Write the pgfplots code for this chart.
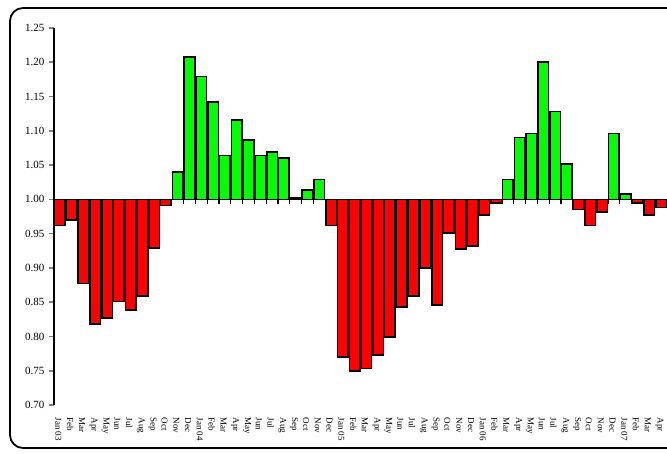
\documentclass[border=0pt]{standalone}
\usepackage{pgfplots}
\pgfplotsset{compat=1.18}
\usepackage{pgfplotstable}
\usepackage{fontspec}
\setmainfont{Liberation Serif}

\definecolor{upgreen}{RGB}{0,255,0}
\definecolor{downred}{RGB}{255,0,0}

% monthly ratio, Jan 03 .. Apr 07
\pgfplotstableread{
i v
0 0.962
1 0.970
2 0.877
3 0.818
4 0.827
5 0.851
6 0.839
7 0.859
8 0.929
9 0.991
10 1.040
11 1.208
12 1.179
13 1.142
14 1.064
15 1.116
16 1.087
17 1.064
18 1.069
19 1.060
20 1.002
21 1.014
22 1.029
23 0.962
24 0.770
25 0.750
26 0.753
27 0.773
28 0.799
29 0.843
30 0.859
31 0.900
32 0.846
33 0.951
34 0.928
35 0.932
36 0.977
37 0.995
38 1.029
39 1.090
40 1.096
41 1.200
42 1.128
43 1.052
44 0.985
45 0.962
46 0.982
47 1.096
48 1.008
49 0.995
50 0.977
51 0.988
}\ratio

\begin{document}
\begin{tikzpicture}[x=1pt,y=1pt]
\draw[line width=1.8pt, rounded corners=13pt] (10,5) rectangle (720,445);
\begin{axis}[
  at={(54pt,48pt)}, anchor=south west,
  scale only axis, width=613pt, height=377pt,
  xmin=-0.5, xmax=51.5, ymin=-0.30, ymax=0.25,
  axis x line*=bottom, axis y line*=left,
  x axis line style={draw=none},
  y axis line style={line width=1.6pt},
  /pgf/number format/assume math mode=true,
  ytick={-0.3,-0.25,-0.2,-0.15,-0.1,-0.05,0,0.05,0.1,0.15,0.2,0.25},
  yticklabel={\pgfmathparse{\tick+1}\pgfmathprintnumber[fixed,fixed zerofill,precision=2]{\pgfmathresult}},
  yticklabel style={font=\fontsize{11}{12}\selectfont, xshift=-1pt},
  ytick style={line width=1.6pt},
  tick align=outside, major tick length=5pt,
  xtick={0,...,51},
  major x tick style={draw=none},
  xticklabels={Jan 03,Feb,Mar,Apr,May,Jun,Jul,Aug,Sep,Oct,Nov,Dec,
    Jan 04,Feb,Mar,Apr,May,Jun,Jul,Aug,Sep,Oct,Nov,Dec,
    Jan 05,Feb,Mar,Apr,May,Jun,Jul,Aug,Sep,Oct,Nov,Dec,
    Jan 06,Feb,Mar,Apr,May,Jun,Jul,Aug,Sep,Oct,Nov,Dec,
    Jan 07,Feb,Mar,Apr},
  xticklabel style={rotate=-90, anchor=west, font=\fontsize{9}{10}\selectfont, xshift=4pt, yshift=-1.5pt},
  ybar, bar width=0.9, bar shift=0pt,
  every axis plot/.append style={line width=1.6pt, draw=black},
  clip=false,
]
\draw[line width=1.6pt] (axis cs:-0.5,0) -- (axis cs:51.5,0);
\pgfplotsinvokeforeach{0.5,1.5,...,50.5}{\draw[line width=1.2pt] (axis cs:#1,0) -- ([yshift=-5pt]axis cs:#1,0);}
\addplot[fill=upgreen, y filter/.expression={y<0 ? nan : y}]
  table[x=i, y expr=\thisrow{v}-1] {\ratio};
\addplot[fill=downred, y filter/.expression={y<0 ? y : nan}]
  table[x=i, y expr=\thisrow{v}-1] {\ratio};
\end{axis}
\pgfresetboundingbox
\useasboundingbox (0,0) rectangle (667,453);
\end{tikzpicture}
\end{document}
